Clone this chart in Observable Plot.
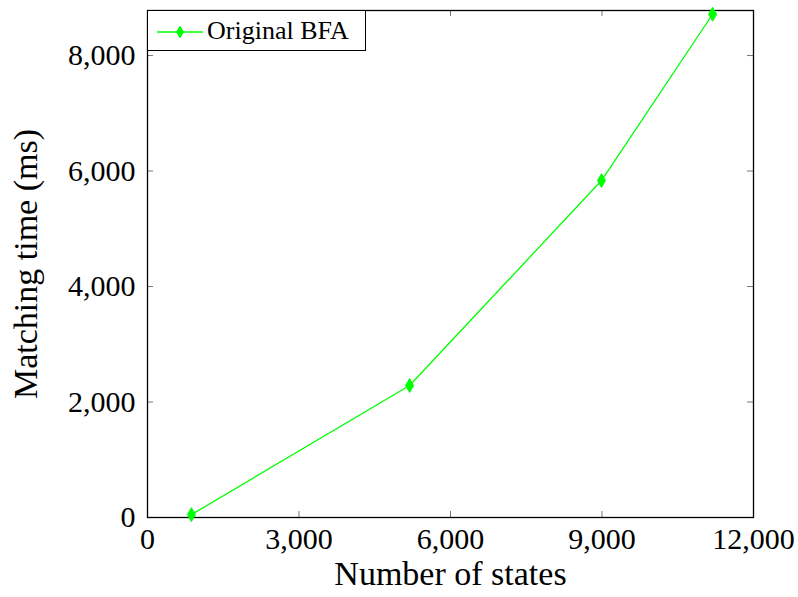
<!DOCTYPE html>
<html>
<head>
<meta charset="utf-8">
<script src="https://cdn.jsdelivr.net/npm/d3@7"></script>
<script src="https://cdn.jsdelivr.net/npm/@observablehq/plot@0.6"></script>
<style>
  body { margin: 0; background: white; }
  #wrap { position: relative; width: 798px; height: 597px; font-family: "Liberation Serif", serif; }
  #legend { position: absolute; left: 147px; top: 10px; width: 219px; height: 41px; border: 1.3px solid black; background: white; box-sizing: border-box; }
  #legend svg { position: absolute; left: 0; top: 0; }
  #legend span { position: absolute; left: 59px; top: 5px; font-size: 26px; line-height: 30px; color: black; white-space: nowrap; }
</style>
</head>
<body>
<div id="wrap"></div>
<script>
const states = [870, 5190, 8990, 11190];
const times = [50, 2285, 5835, 8715];
const xTicks = [0, 3000, 6000, 9000, 12000];
const yTicks = [0, 2000, 4000, 6000, 8000];
const seriesName = "Original BFA";
const green = "#00ff00";

const data = states.map((s, i) => ({x: s, y: times[i]}));
const fmt = d3.format(",");

const W = 798, H = 597;
const mL = 147, mR = 45, mT = 10, mB = 80;
const iw = W - mL - mR, ih = H - mT - mB;
const tl = 6;

const chart = Plot.plot({
  width: W, height: H,
  marginLeft: mL, marginRight: mR, marginTop: mT, marginBottom: mB,
  style: {fontFamily: "'Liberation Serif', serif", fontSize: "30px", background: "white", color: "black"},
  x: {domain: [0, 12000]},
  y: {domain: [0, 8780]},
  marks: [
    Plot.tickX(xTicks.slice(1, -1), {x: d => d, insetTop: ih - tl, stroke: "#777", strokeWidth: 1}),
    Plot.tickX(xTicks.slice(1, -1), {x: d => d, insetBottom: ih - tl, stroke: "#777", strokeWidth: 1}),
    Plot.tickY(yTicks.slice(1), {y: d => d, insetRight: iw - tl, stroke: "#777", strokeWidth: 1}),
    Plot.tickY(yTicks.slice(1), {y: d => d, insetLeft: iw - tl, stroke: "#777", strokeWidth: 1}),
    Plot.axisX(xTicks, {tickSize: 0, tickPadding: 10, tickFormat: fmt, fontSize: 30, label: "Number of states", labelAnchor: "center", labelArrow: "none", labelOffset: 67}),
    Plot.axisY(yTicks, {tickSize: 0, tickPadding: 12, tickFormat: fmt, fontSize: 30, label: "Matching time (ms)", labelAnchor: "center", labelArrow: "none", labelOffset: 135}),
    Plot.frame({stroke: "black", strokeWidth: 1.3}),
    Plot.line(data, {x: "x", y: "y", stroke: green, strokeWidth: 1.3}),
    Plot.dot(data, {x: "x", y: "y", symbol: "diamond", r: 4.2, fill: green, stroke: green, strokeWidth: 1})
  ]
});
chart.querySelectorAll("g[aria-label$='axis label'] text").forEach(t => t.style.fontSize = "34px");
chart.querySelectorAll("text").forEach(t => { t.setAttribute("font-family", "Liberation Serif"); t.style.fontFamily = "'Liberation Serif', serif"; });
chart.querySelectorAll("g").forEach(g => { if (g.getAttribute("font-family")) g.setAttribute("font-family", "Liberation Serif"); });
document.getElementById("wrap").appendChild(chart);

const legend = document.createElement("div");
legend.id = "legend";
legend.innerHTML = `<svg width="219" height="41"><line x1="9" x2="55" y1="21" y2="21" stroke="${green}" stroke-width="1.3"/><path d="M32,14.5L36,21L32,27.5L28,21Z" fill="${green}"/></svg><span>${seriesName}</span>`;
document.getElementById("wrap").appendChild(legend);
</script>
</body>
</html>
